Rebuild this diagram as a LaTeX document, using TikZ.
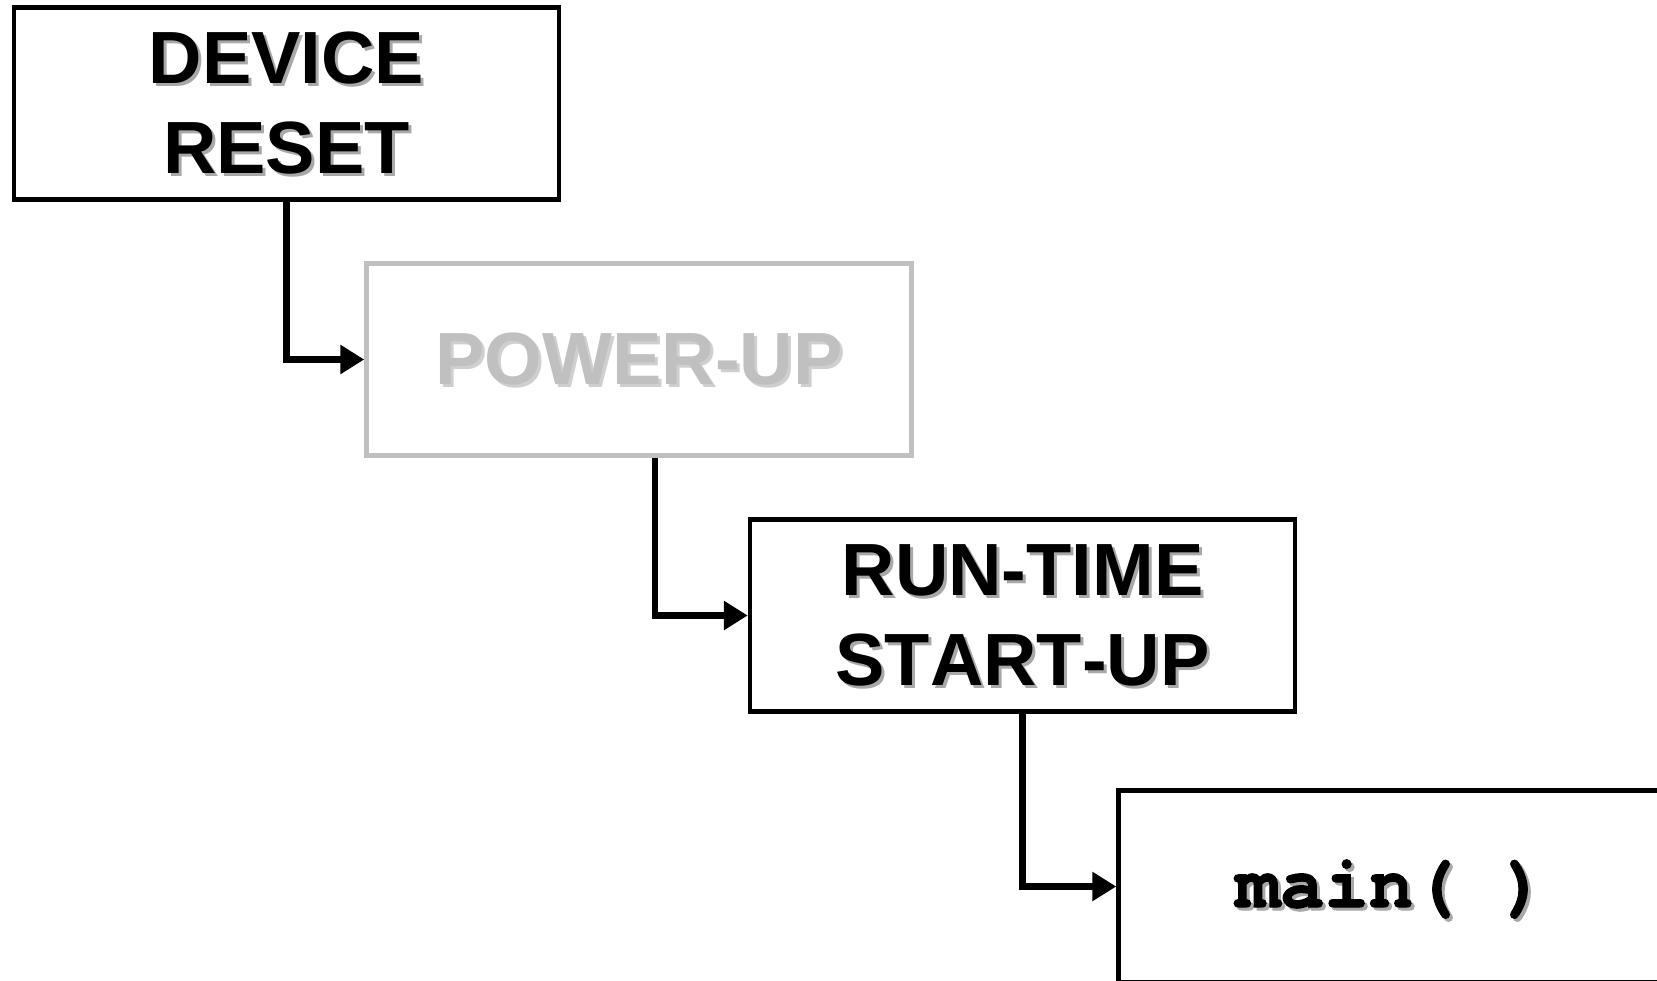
\documentclass[tikz,border=0pt]{standalone}
\usepackage{fontspec}
\setmainfont{Liberation Sans}[Kerning=Off]
\newfontfamily\codefont{texgyrecursor-bold.otf}[FakeBold=1.6]
\usetikzlibrary{arrows.meta,calc}
\definecolor{paleline}{HTML}{C0C0C0}
\definecolor{paleshade}{HTML}{CFCFCF}
\definecolor{shade}{HTML}{A8A8A8}
\tikzset{
  stage/.style={draw, line width=4.5pt, fill=white, minimum width=545pt,
                minimum height=192pt, inner sep=0pt},
  title/.style={font=\bfseries\fontsize{74}{90}\selectfont, align=center, inner sep=0pt},
  code/.style={font=\codefont\bfseries\fontsize{74}{89}\selectfont, inner sep=0pt, anchor=base},
  conn/.style={line width=6.5pt, line join=miter, -{Triangle[length=24pt,width=28pt]}},
}
\begin{document}
\begin{tikzpicture}[x=1pt,y=-1pt]
\useasboundingbox (0,0) rectangle (1657,981);
\clip (0,0) rectangle (1657,981);

% boxes of the start-up sequence
\node[stage] (reset) at (286.5,103.5) {};
\node[stage, draw=paleline] (power) at (639,359.5) {};
\node[stage] (runtime) at (1022.5,615.5) {};
\node[stage] (mainbox) at (1391,886.5) {};

% labels with a drop shadow
\node[title, text=shade] (reset-sh) at ($(reset)+(3,3)$) {DEVICE\\RESET};
\node[title] (reset-txt) at (reset) {DEVICE\\RESET};
\node[title, text=paleshade] (power-sh) at ($(power)+(3,3)$) {POWER-UP};
\node[title, text=paleline] (power-txt) at (power) {POWER-UP};
\node[title, text=shade] (runtime-sh) at ($(runtime)+(3,3)$) {RUN-TIME\\START-UP};
\node[title] (runtime-txt) at (runtime) {RUN-TIME\\START-UP};
\node[code, text=shade] (main-sh) at (1394,910) {main(~)};
\node[code] (main-txt) at (1391,907) {main(~)};

% connectors
\draw[conn] (reset.south) |- (power.west);
\draw[conn] ([xshift=16pt]power.south) |- (runtime.west);
\draw[conn] (runtime.south) |- (mainbox.west);
\end{tikzpicture}
\end{document}
